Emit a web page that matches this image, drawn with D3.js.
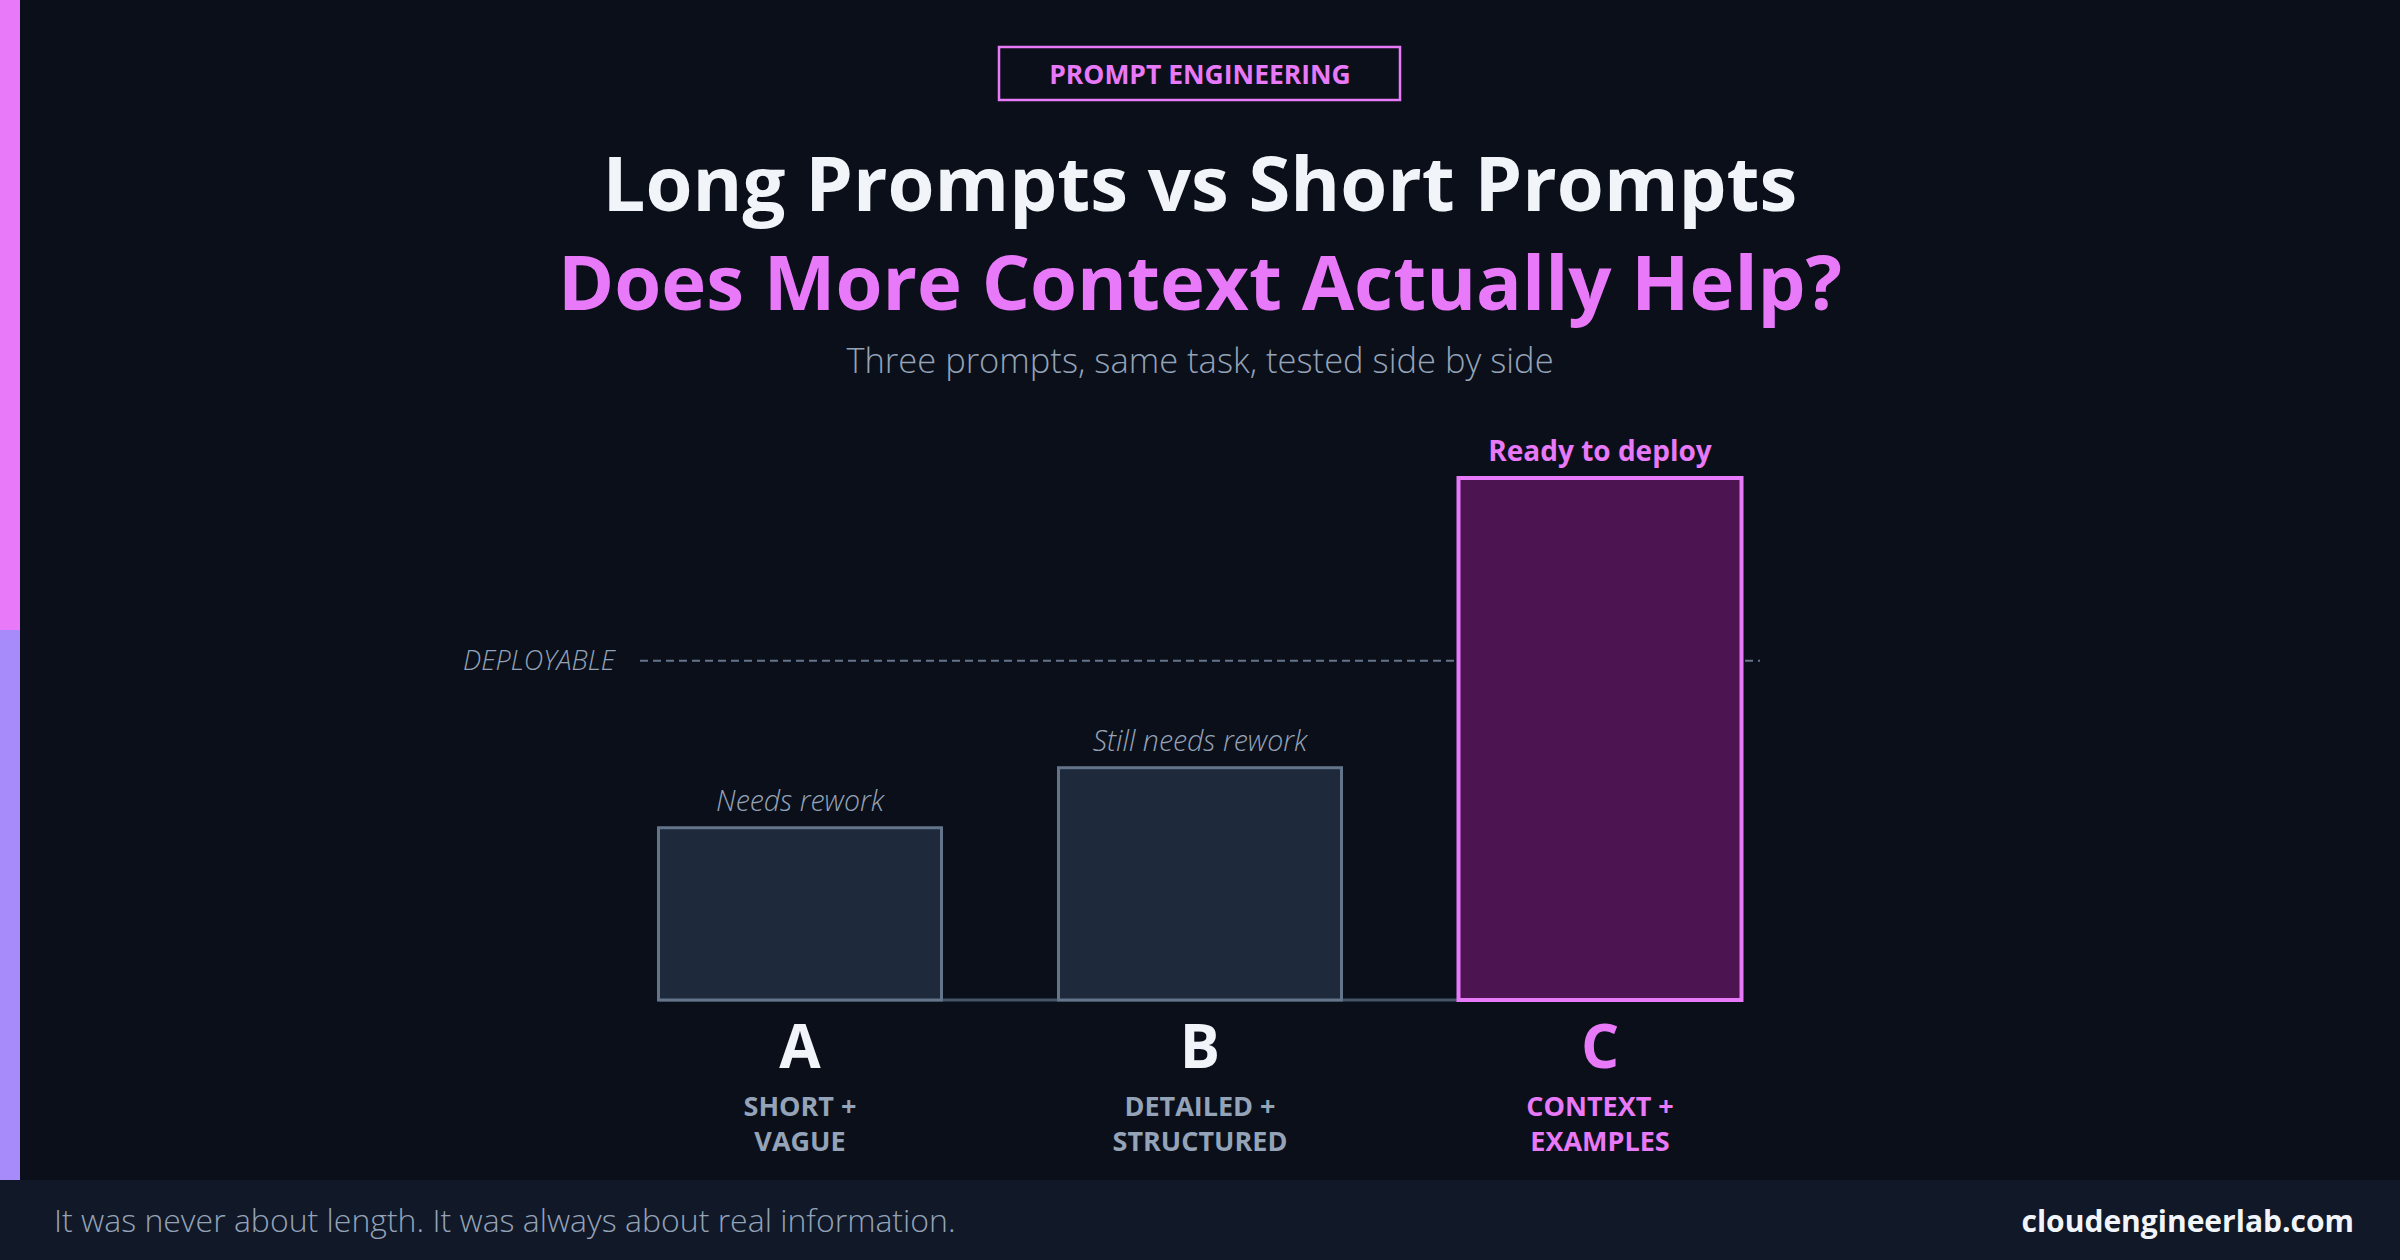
<!DOCTYPE html>
<html><head><meta charset="utf-8">
<script src="https://cdn.jsdelivr.net/npm/d3@7/dist/d3.min.js"></script>
<style>
html,body{margin:0;padding:0;background:#0b0f19;}
svg{display:block;}
text{font-family:"Open Sans","Noto Sans",sans-serif;}
</style></head>
<body>
<svg id="chart" width="2400" height="1260"></svg>
<script>
// ---- data ----
const categories = ["A", "B", "C"];
const scores = [33, 44.5, 100];
const barNotes = ["Needs rework", "Still needs rework", "Ready to deploy"];
const subLabelsTop = ["SHORT +", "DETAILED +", "CONTEXT +"];
const subLabelsBottom = ["VAGUE", "STRUCTURED", "EXAMPLES"];
const highlight = [false, false, true];
const deployableThreshold = 65;
const yDomain = [0, 100];

const tagText = "PROMPT ENGINEERING";
const titleLine1 = "Long Prompts vs Short Prompts";
const titleLine2 = "Does More Context Actually Help?";
const subtitle = "Three prompts, same task, tested side by side";
const footerText = "It was never about length. It was always about real information.";
const brandText = "cloudengineerlab.com";
const thresholdLabel = "DEPLOYABLE";

// ---- colors ----
const BG = "#0b0f19", FOOT = "#111827", PINK = "#e879f9", PURPLE = "#a78bfa",
      WHITE = "#f1f5f9", GRAY = "#94a3b8", SLATE = "#64748b";

const W = 2400, H = 1260;
const svg = d3.select("#chart");
svg.append("rect").attr("width", W).attr("height", H).attr("fill", BG);

// left stripe
svg.append("rect").attr("x", 0).attr("y", 0).attr("width", 20).attr("height", 630).attr("fill", PINK);
svg.append("rect").attr("x", 0).attr("y", 630).attr("width", 20).attr("height", 630).attr("fill", PURPLE);

// tag
svg.append("rect").attr("x", 999).attr("y", 47).attr("width", 401).attr("height", 53)
  .attr("fill", "none").attr("stroke", PINK).attr("stroke-width", 2.5);
svg.append("text").attr("x", 1200).attr("y", 84).attr("text-anchor", "middle")
  .attr("fill", PINK).attr("font-size", 26.5).attr("font-weight", 700).text(tagText);

// titles
svg.append("text").attr("x", 1200).attr("y", 211).attr("text-anchor", "middle")
  .attr("fill", WHITE).attr("font-size", 76).attr("font-weight", 700).text(titleLine1);
svg.append("text").attr("x", 1200).attr("y", 310).attr("text-anchor", "middle")
  .attr("fill", PINK).attr("font-size", 76).attr("font-weight", 700).text(titleLine2);
svg.append("text").attr("x", 1200).attr("y", 373).attr("text-anchor", "middle")
  .attr("fill", GRAY).attr("font-size", 34.5).attr("font-weight", 300).text(subtitle);

// scales
const x = d3.scaleBand().domain(categories).range([600, 1800]).paddingInner(0.2925).paddingOuter(0.14625);
const y = d3.scaleLinear().domain(yDomain).range([1000, 478]);

// threshold line
svg.append("line").attr("x1", 640).attr("x2", 1760)
  .attr("y1", y(deployableThreshold)).attr("y2", y(deployableThreshold))
  .attr("stroke", SLATE).attr("stroke-width", 2).attr("stroke-dasharray", "8,5");
svg.append("text").attr("x", 615).attr("y", y(deployableThreshold) + 9).attr("text-anchor", "end")
  .attr("fill", GRAY).attr("font-size", 27).attr("font-style", "italic").attr("font-weight", 300)
  .text(thresholdLabel);

// baseline
svg.append("line").attr("x1", x("A")).attr("x2", x("C") + x.bandwidth())
  .attr("y1", y(0)).attr("y2", y(0)).attr("stroke", "#475569").attr("stroke-width", 3);

const data = categories.map((c, i) => ({c, v: scores[i], note: barNotes[i], t: subLabelsTop[i], b: subLabelsBottom[i], hl: highlight[i]}));

const g = svg.append("g");
g.selectAll("rect.bar").data(data).join("rect").attr("class", "bar")
  .attr("x", d => x(d.c)).attr("width", x.bandwidth())
  .attr("y", d => y(d.v)).attr("height", d => y(0) - y(d.v))
  .attr("fill", d => d.hl ? "#4c1552" : "#1e293b")
  .attr("stroke", d => d.hl ? PINK : SLATE)
  .attr("stroke-width", d => d.hl ? 4 : 3);

g.selectAll("text.note").data(data).join("text").attr("class", "note")
  .attr("x", d => x(d.c) + x.bandwidth() / 2).attr("y", d => y(d.v) - 17)
  .attr("text-anchor", "middle")
  .attr("fill", d => d.hl ? PINK : GRAY)
  .attr("font-size", d => d.hl ? 28 : 28.5)
  .attr("font-weight", d => d.hl ? 700 : 300)
  .attr("font-style", d => d.hl ? "normal" : "italic")
  .text(d => d.note);

g.selectAll("text.cat").data(data).join("text").attr("class", "cat")
  .attr("x", d => x(d.c) + x.bandwidth() / 2).attr("y", 1068)
  .attr("text-anchor", "middle").attr("fill", d => d.hl ? PINK : WHITE)
  .attr("font-size", 60).attr("font-weight", 700).text(d => d.c);

g.selectAll("text.sub1").data(data).join("text").attr("class", "sub1")
  .attr("x", d => x(d.c) + x.bandwidth() / 2).attr("y", 1116)
  .attr("text-anchor", "middle").attr("fill", d => d.hl ? PINK : GRAY)
  .attr("font-size", 27).attr("font-weight", 700).text(d => d.t);
g.selectAll("text.sub2").data(data).join("text").attr("class", "sub2")
  .attr("x", d => x(d.c) + x.bandwidth() / 2).attr("y", 1151)
  .attr("text-anchor", "middle").attr("fill", d => d.hl ? PINK : GRAY)
  .attr("font-size", 27).attr("font-weight", 700).text(d => d.b);

// footer
svg.append("rect").attr("x", 0).attr("y", 1180).attr("width", W).attr("height", 80).attr("fill", FOOT);
svg.append("text").attr("x", 54).attr("y", 1232).attr("fill", GRAY)
  .attr("font-size", 32).attr("font-weight", 300).text(footerText);
svg.append("text").attr("x", 2354).attr("y", 1232).attr("text-anchor", "end").attr("fill", WHITE)
  .attr("font-size", 30).attr("font-weight", 700).text(brandText);
</script>
</body></html>
